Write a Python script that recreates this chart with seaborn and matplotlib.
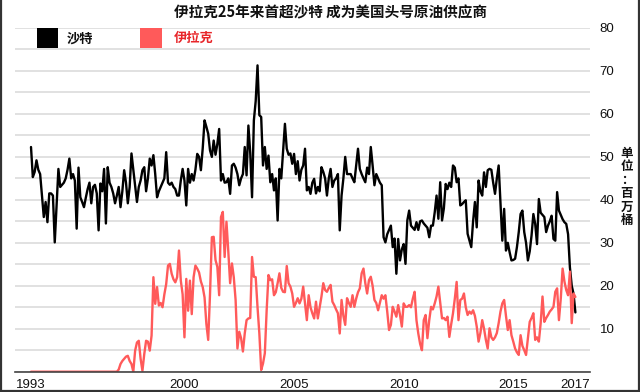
import numpy as np
import pandas as pd
import seaborn as sns
import matplotlib.pyplot as plt
from matplotlib.patches import Rectangle
from matplotlib.lines import Line2D

# monthly US crude imports, million barrels, Jan 1993 - Nov 2017
saudi = [
    52.3, 45.3, 46.5, 49.2, 47, 46, 41, 36, 39.5, 34.8, 41.5, 41.5,      # 1993
    41, 30.1, 38.5, 47.2, 43, 43.5, 44, 45, 47, 49.6, 45, 46,            # 1994
    44.5, 33.3, 47.5, 40.6, 39.5, 38.3, 40.5, 42.5, 44, 39.2, 43, 43.5,  # 1995
    41.5, 32.9, 43.8, 42, 47.2, 34.5, 47.6, 44, 43, 41.5, 39.2, 41,      # 1996
    43, 38.3, 42, 46.9, 44, 39.2, 43, 50.8, 47, 43, 39.5, 43,            # 1997
    44.5, 46.9, 47.6, 42, 45, 49.6, 48, 50.4, 46, 40.6, 42, 43,          # 1998
    44, 45, 51.1, 44, 43.5, 44, 43, 42.5, 41, 41, 44.5, 47.2,            # 1999
    44.5, 38.7, 47.2, 44, 46, 44.5, 47, 50.7, 50, 46.9, 52, 58.5,        # 2000
    57, 55.4, 51.5, 50, 53.8, 50.5, 53, 56.5, 44.5, 46, 44, 44.1,        # 2001
    45, 41.4, 48, 48.4, 47.5, 46, 43.4, 45, 46, 52.3, 45.7, 57.3,        # 2002
    51, 40.6, 58.5, 63, 71.3, 59.7, 59.3, 48, 52.3, 47.2, 50.3, 44.1,    # 2003
    46, 42.2, 45, 35.2, 47.2, 45, 51.5, 57.7, 51.9, 50.5, 50.8, 48.4,    # 2004
    50.7, 46, 49, 44.5, 47, 48, 51.9, 42.2, 43, 41.4, 44, 44.9,          # 2005
    41.5, 43, 42, 47.6, 46.5, 45, 41, 45, 47.2, 43, 44.5, 45,            # 2006
    46, 32.9, 41, 45, 50, 46, 46, 46, 45, 44.1, 48, 51.9,                # 2007
    47.2, 46, 45, 44.1, 47.5, 46, 52.3, 48, 43.4, 46, 45, 44,            # 2008
    43.4, 31.3, 30.1, 32, 33, 34, 29, 31, 22.8, 30.9, 25.9, 28.5,        # 2009
    29.7, 25.1, 35.2, 37.5, 34, 33.5, 33, 34.8, 33, 35, 35.2, 34.5,      # 2010
    34, 33.5, 31.3, 34, 34, 37.1, 41, 35.6, 44.1, 35.2, 38, 43.7,        # 2011
    42.5, 44, 43, 48, 47.5, 44.1, 45, 38.7, 39, 39.5, 39.9, 32.1,        # 2012
    30.5, 29, 35, 39.5, 33.6, 44.5, 42, 41, 46.4, 43, 46.9, 47.2,        # 2013
    47, 44, 41.4, 45, 48, 39, 30.5, 37.9, 28.2, 30, 27.8, 25.9,          # 2014
    26, 26.3, 29, 32.5, 36.7, 37.5, 32.5, 30, 25.9, 28, 31.7, 36.7,      # 2015
    34.4, 29.7, 40.2, 37, 36.5, 36, 32.5, 34, 35, 36.3, 30.9, 30.5,      # 2016
    41.8, 37.5, 36.5, 35.5, 34.8, 34.4, 32, 24.3, 20, 18.1, 13.8,        # 2017
]

iraq = [0] * 48 + [                                                      # 1993-1996
    0.5, 1.8, 2.5, 3, 3.5, 3.7, 2.5, 1.8, 0, 4.9, 6.8, 7.2,              # 1997
    3, 0.2, 4.1, 7.2, 7, 4.9, 8.4, 22, 15.8, 19.7, 15.4, 16,             # 1998
    15, 18, 20.4, 24.7, 25.1, 22.8, 21.5, 20.8, 22, 28.2, 21.2, 18,      # 1999
    8, 21.6, 14.2, 21.2, 13.4, 22, 24.7, 24, 23.1, 21, 19.7, 17.3,       # 2000
    11.1, 7.4, 18.1, 31.3, 31.4, 26, 24.4, 17.8, 36, 37.2, 26.7, 34.9,   # 2001
    28, 20.6, 25.2, 22, 16.7, 5.4, 9.3, 7.8, 4.7, 8.9, 12, 12.4,         # 2002
    12.5, 26.7, 22.1, 22, 15, 8.9, 0.4, 1.9, 4.3, 14.3, 22.5, 21.3,      # 2003
    21.5, 17.8, 18.5, 20.6, 22.9, 19.5, 18.6, 18.5, 24.6, 20.6, 19.8, 18.2,  # 2004
    15.1, 16, 17.1, 15.9, 17, 19.8, 15.9, 12, 17.8, 15, 13.6, 12.4,      # 2005
    16.3, 12.4, 15, 17.5, 20.6, 19, 18.6, 19.5, 20.2, 16.3, 15.5, 14.5,  # 2006
    13.6, 8.9, 16.7, 13, 10.9, 17.1, 16, 15.1, 17.8, 15.1, 17, 18.5,     # 2007
    19.4, 22.9, 24, 20.6, 18.2, 21.3, 22.1, 20, 16.7, 16, 14.3, 16,      # 2008
    17.8, 17, 17.8, 14, 9.7, 10.9, 15.1, 14, 12.8, 15.5, 13.2, 10.5,     # 2009
    15.9, 15.1, 15.1, 15.5, 15, 17, 18.6, 12, 8.9, 6.5, 5, 12,           # 2010
    13.2, 7.8, 12, 15.1, 14.5, 15.9, 17.5, 19.8, 16, 12.4, 12.5, 12,     # 2011
    12.8, 8.1, 11, 13.6, 17, 20.9, 12, 16.7, 17, 18.2, 15, 13.2,         # 2012
    14, 13.5, 14.3, 13, 10.5, 7, 9, 12, 10, 7.4, 5.4, 10.1,              # 2013
    8, 7.4, 8, 9, 11.3, 14, 15.9, 16.7, 13, 9.7, 12, 8.5,                # 2014
    7, 5.4, 4.5, 3.9, 8.5, 6, 5, 3.9, 7.8, 11.6, 12.5, 13.6,             # 2015
    7.4, 8, 7, 11.3, 17.5, 11.6, 12.5, 13.2, 14, 14.5, 15.1, 18.6,       # 2016
    19.4, 12, 17, 24, 21, 19, 17.8, 23.3, 11.3, 18.2, 17.4,              # 2017
]

series_names = ["沙特", "伊拉克"]
series_colors = ["#000000", "#ff5a5a"]
year_ticks = [1993, 2000, 2005, 2010, 2015]
y_ticks = [10, 20, 30, 40, 50, 60, 70, 80]

months = 1993 + np.arange(len(saudi)) / 12
df = pd.DataFrame({
    "t": np.concatenate([months, months]),
    "value": saudi + iraq,
    "country": [series_names[0]] * len(saudi) + [series_names[1]] * len(iraq),
})

sns.set_style("white")
plt.rcParams['font.family'] = ['Liberation Sans', 'Noto Sans CJK SC', 'DejaVu Sans']
cjk = ['Noto Sans CJK SC', 'DejaVu Sans']

fig = plt.figure(figsize=(6.4, 3.92), dpi=100)
ax = fig.add_axes([15 / 640, 20.3 / 392, 575 / 640, 343.7 / 392])

sns.lineplot(data=df, x="t", y="value", hue="country", hue_order=series_names,
             palette=series_colors, linewidth=1.7, legend=False, ax=ax, zorder=3)

ax.set_xlim(1993 - 8.76 / 12, 1993 + 306 / 12)
ax.set_ylim(0, 80)
ax.set_xlabel("")
ax.set_ylabel("")

# x ticks, last one sits at the end of the data
ax.set_xticks(year_ticks + [months[-1]])
ax.set_xticklabels([str(y) for y in year_ticks] + ["2017"])
ax.tick_params(axis="x", direction="out", length=4, width=1, color="#444444",
               labelsize=9.5, pad=1, labelcolor="#111111")

ax.yaxis.tick_right()
ax.set_yticks(y_ticks)
ax.set_yticks(np.arange(0, 81, 5), minor=True)
ax.tick_params(axis="y", which="both", length=0, pad=7, labelsize=9.5, labelcolor="#111111")
ax.grid(True, axis="y", which="both", color="#dcdcdc", linewidth=1.2)
ax.grid(False, axis="x")
for s in ["top", "left", "right"]:
    ax.spines[s].set_visible(False)
ax.spines["bottom"].set_color("#444444")
ax.spines["bottom"].set_linewidth(1.2)
ax.spines["bottom"].set_zorder(4)

# legend boxes
tr = ax.get_xaxis_transform()
ax.add_patch(Rectangle(((37 - 15) / 575, 75.4), 21 / 575, 4.6, transform=ax.transData,
                       facecolor=series_colors[0], edgecolor="none", zorder=5))
ax.patches[-1].set_transform(ax.get_yaxis_transform())
ax.add_patch(Rectangle(((140 - 15) / 575, 75.4), 22 / 575, 4.6,
                       transform=ax.get_yaxis_transform(),
                       facecolor=series_colors[1], edgecolor="none", zorder=5))
ax.text((67 - 15) / 575, 77.6, series_names[0], transform=ax.get_yaxis_transform(),
        family=cjk, fontsize=9.5, fontweight="bold", color="#111111", va="center", ha="left")
ax.text((174 - 15) / 575, 77.6, series_names[1], transform=ax.get_yaxis_transform(),
        family=cjk, fontsize=9.5, fontweight="bold", color="#e8262a", va="center", ha="left")

fig.text(330 / 640, 1 - 12.5 / 392, "伊拉克25年来首超沙特 成为美国头号原油供应商",
         family=cjk, fontsize=10.5, fontweight="bold", ha="center", va="center", color="#111111")

fig.text(627 / 640, 1 - 187 / 392, "\n".join("单位：百万桶"), family=cjk, fontsize=9,
         fontweight="bold", ha="center", va="center", linespacing=1.05, color="#111111")

# frame around the picture
for xs, ys in [([0.002, 0.002], [0, 1]), ([0.998, 0.998], [0, 1]), ([0, 1], [0.003, 0.003])]:
    fig.add_artist(Line2D(xs, ys, transform=fig.transFigure, color="#333333", linewidth=1.6))

fig.savefig("out.png", dpi=100)
